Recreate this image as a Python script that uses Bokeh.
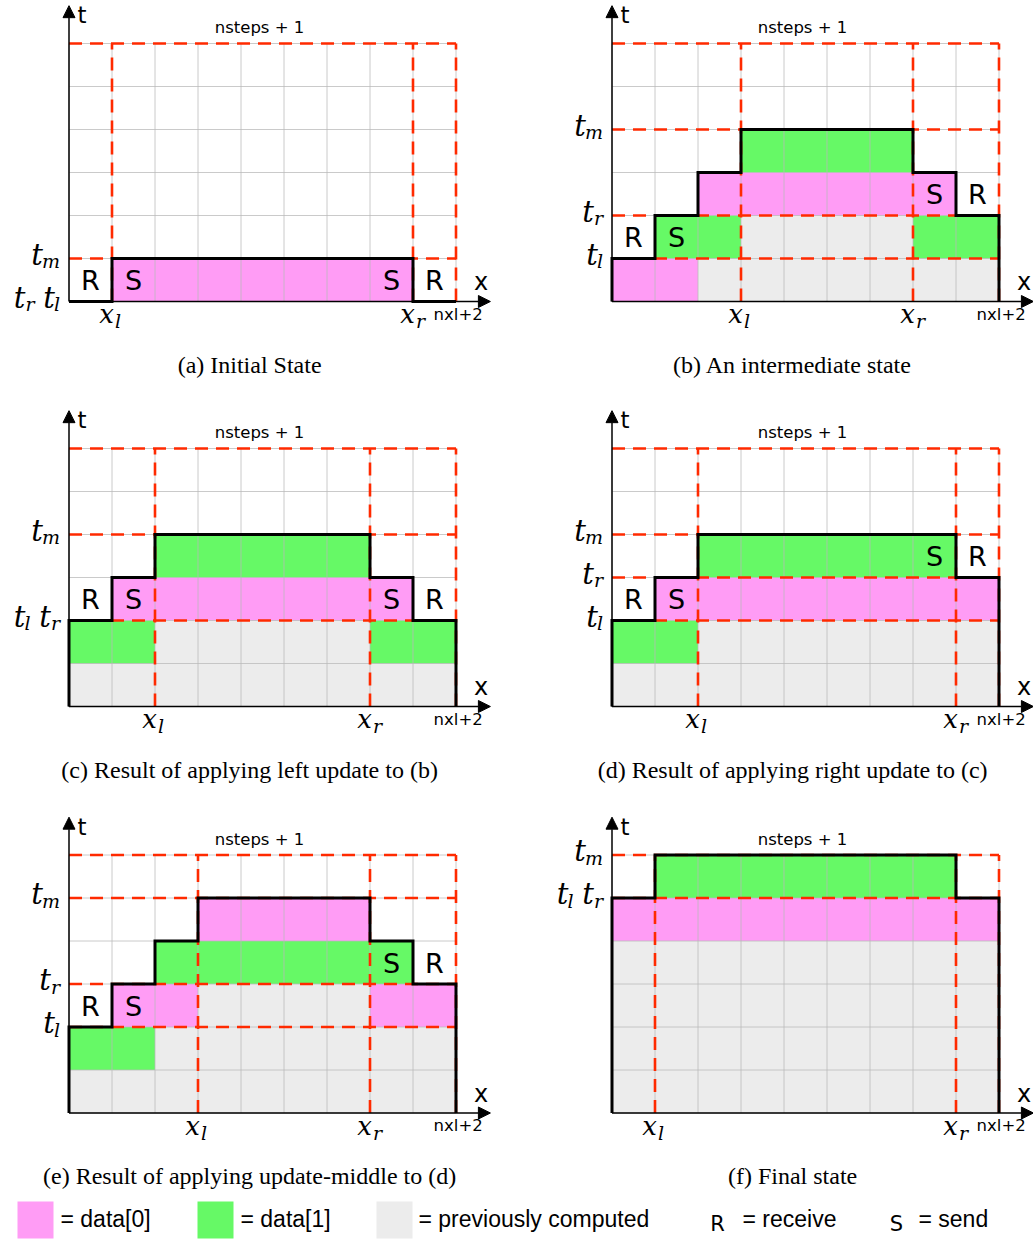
from bokeh.plotting import figure
from bokeh.layouts import column, row
from bokeh.models import Range1d, Arrow, NormalHead
from bokeh.core.properties import value
from bokeh.embed import file_html
from bokeh.resources import INLINE

# ---------------- data ----------------
CAPTIONS = [
    "(a)  Initial State",
    "(b)  An intermediate state",
    "(c)  Result of applying left update to (b)",
    "(d)  Result of applying right update to (c)",
    "(e)  Result of applying update-middle to (d)",
    "(f)  Final state",
]
NX = 9          # nxl + 2 (columns)
NT = 6          # nsteps + 1 (rows)
X_L = [1, 3, 2, 2, 3, 1]
X_R = [8, 7, 7, 8, 7, 8]
T_L = [0, 1, 2, 2, 2, 5]
T_R = [0, 2, 2, 3, 3, 5]
T_M = [1, 4, 4, 4, 5, 6]
T_TICK_ORDER = [["r", "l"], None, ["l", "r"], None, None, ["l", "r"]]

# height of the computed region in each column (black outline)
HEIGHTS = [
    [0, 1, 1, 1, 1, 1, 1, 1, 0],
    [1, 2, 3, 4, 4, 4, 4, 3, 2],
    [2, 3, 4, 4, 4, 4, 4, 3, 2],
    [2, 3, 4, 4, 4, 4, 4, 4, 3],
    [2, 3, 4, 5, 5, 5, 5, 4, 3],
    [5, 6, 6, 6, 6, 6, 6, 6, 5],
]
# (x0, x1, t0, t1) in cells
PINK_RECTS = [
    [(1, 8, 0, 1)],
    [(0, 2, 0, 1), (2, 8, 2, 3)],
    [(1, 8, 2, 3)],
    [(1, 9, 2, 3)],
    [(1, 3, 2, 3), (7, 9, 2, 3), (3, 7, 4, 5)],
    [(0, 9, 4, 5)],
]
GREEN_RECTS = [
    [],
    [(1, 3, 1, 2), (7, 9, 1, 2), (3, 7, 3, 4)],
    [(0, 2, 1, 2), (7, 9, 1, 2), (2, 7, 3, 4)],
    [(0, 2, 1, 2), (2, 8, 3, 4)],
    [(0, 2, 1, 2), (2, 8, 3, 4)],
    [(1, 8, 5, 6)],
]
GRAY_RECTS = [
    [],
    [(2, 9, 0, 1), (3, 7, 1, 2)],
    [(0, 9, 0, 1), (2, 7, 1, 2)],
    [(0, 9, 0, 1), (2, 9, 1, 2)],
    [(0, 9, 0, 1), (2, 9, 1, 2), (3, 7, 2, 3)],
    [(0, 9, 0, 4)],
]
# (letter, cell x, cell t)
RS_MARKS = [
    [("R", 0, 0), ("S", 1, 0), ("S", 7, 0), ("R", 8, 0)],
    [("R", 0, 1), ("S", 1, 1), ("S", 7, 2), ("R", 8, 2)],
    [("R", 0, 2), ("S", 1, 2), ("S", 7, 2), ("R", 8, 2)],
    [("R", 0, 2), ("S", 1, 2), ("S", 7, 3), ("R", 8, 3)],
    [("R", 0, 2), ("S", 1, 2), ("S", 7, 3), ("R", 8, 3)],
    [],
]
LEGEND_LABELS = ["= data[0]", "= data[1]", "= previously computed", "= receive", "= send"]

# ---------------- style ----------------
PINK = "#ff9cf5"
GREEN = "#66f966"
GRAY = "#ececec"
RED = "#ff2a00"
GRIDC = "#b8b8b8"
UNIT = 43.0
MATH = value("DejaVu Serif")
SANS = value("DejaVu Sans")
SUBW = {"m": 18.0, "l": 6.0, "r": 10.0}
TW = 11.5


def u(px):
    return px / UNIT


def make_panel(i, width, origin_x, height, origin_y):
    p = figure(width=width, height=height,
               x_range=Range1d(-u(origin_x), u(width - origin_x)),
               y_range=Range1d(-u(height - origin_y), u(origin_y)),
               output_backend="svg", toolbar_location=None,
               x_axis_type=None, y_axis_type=None, min_border=0,
               outline_line_color=None, background_fill_color="white",
               border_fill_color="white")
    # fills
    for rects, col in ((GRAY_RECTS[i], GRAY), (PINK_RECTS[i], PINK), (GREEN_RECTS[i], GREEN)):
        if rects:
            p.quad(left=[r[0] for r in rects], right=[r[1] for r in rects],
                   bottom=[r[2] for r in rects], top=[r[3] for r in rects],
                   fill_color=col, line_color=None)
    # grid
    gx0 = list(range(NX + 1)) + [0] * (NT + 1)
    gx1 = list(range(NX + 1)) + [NX] * (NT + 1)
    gy0 = [0] * (NX + 1) + list(range(NT + 1))
    gy1 = [NT] * (NX + 1) + list(range(NT + 1))
    p.segment(x0=gx0, y0=gy0, x1=gx1, y1=gy1, line_color=GRIDC, line_alpha=0.75, line_width=1)
    # red dashed lines
    hs = sorted(set([NT, T_M[i], T_L[i], T_R[i]]) - {0})
    vs = sorted(set([X_L[i], X_R[i], NX]))
    p.segment(x0=[0] * len(hs), y0=hs, x1=[NX] * len(hs), y1=hs,
              line_color=RED, line_width=2.6, line_dash="13 8")
    p.segment(x0=vs, y0=[0] * len(vs), x1=vs, y1=[NT] * len(vs),
              line_color=RED, line_width=2.6, line_dash="13 8")
    # outline
    h = HEIGHTS[i]
    ox, oy = [0], [0]
    for c, hc in enumerate(h):
        ox += [c, c + 1]
        oy += [hc, hc]
    ox.append(NX)
    oy.append(0)
    p.line(ox, oy, line_color="black", line_width=3, line_join="miter")
    # axes arrows
    p.add_layout(Arrow(end=NormalHead(size=12, line_color="black", fill_color="black"),
                       x_start=0, y_start=0, x_end=9.8, y_end=0, line_width=1.5))
    p.add_layout(Arrow(end=NormalHead(size=12, line_color="black", fill_color="black"),
                       x_start=0, y_start=0, x_end=0, y_end=6.88, line_width=1.5))
    p.text(x=[0.2], y=[6.66], text=["t"], text_font=SANS, text_font_size="23px",
           text_align="left", text_baseline="middle")
    p.text(x=[9.42], y=[0.45], text=["x"], text_font=SANS, text_font_size="24px",
           text_align="left", text_baseline="middle")
    p.text(x=[4.43], y=[6.37], text=["nsteps + 1"], text_font=SANS, text_font_size="16.5px",
           text_align="center", text_baseline="middle")
    p.text(x=[9.05], y=[-0.3], text=["nxl+2"], text_font=SANS, text_font_size="16.5px",
           text_align="center", text_baseline="middle")
    # R / S marks
    marks = RS_MARKS[i]
    if marks:
        p.text(x=[m[1] + 0.5 for m in marks], y=[m[2] + 0.48 for m in marks],
               text=[m[0] for m in marks], text_font=SANS, text_font_size="27px",
               text_align="center", text_baseline="middle")
    # t tick labels
    levels = {}
    for name, arr in (("l", T_L), ("r", T_R), ("m", T_M)):
        levels.setdefault(arr[i], []).append(name)
    bx, by, sx, sy, st = [], [], [], [], []
    for lev, names in levels.items():
        if len(names) > 1 and T_TICK_ORDER[i]:
            names = T_TICK_ORDER[i]
        cur = -9.0
        for name in reversed(names):
            sx.append(u(cur)); sy.append(lev - u(2.5)); st.append(name)
            base_r = cur - SUBW[name] + 1.0
            bx.append(u(base_r)); by.append(lev + u(4))
            cur = base_r - TW - 9
    p.text(x=bx, y=by, text=["t"] * len(bx), text_font=MATH, text_font_style="italic",
           text_font_size="29px", text_align="right", text_baseline="middle")
    p.text(x=sx, y=sy, text=st, text_font=MATH, text_font_style="italic",
           text_font_size="19px", text_align="right", text_baseline="middle")
    # x tick labels
    xs = [X_L[i], X_R[i]]
    p.text(x=[v + u(2) for v in xs], y=[-u(12.5)] * 2, text=["x", "x"], text_font=MATH,
           text_font_style="italic", text_font_size="26px", text_align="right",
           text_baseline="middle")
    p.text(x=[v + u(3) for v in xs], y=[-u(19.5)] * 2, text=["l", "r"], text_font=MATH,
           text_font_style="italic", text_font_size="19px", text_align="left",
           text_baseline="middle")
    # caption
    p.text(x=[4.27], y=[-1.47], text=[CAPTIONS[i]], text_font=value("Liberation Serif"),
           text_font_size="24px", text_align="center", text_baseline="middle")
    return p


LEFT_W, RIGHT_W = 530, 503
LEFT_OX, RIGHT_OX = 68.5, 81.5
ROW_H = [404, 406, 380]
ROW_OY = [301, 302, 302.5]

rows = []
for r in range(3):
    pl = make_panel(2 * r, LEFT_W, LEFT_OX, ROW_H[r], ROW_OY[r])
    pr = make_panel(2 * r + 1, RIGHT_W, RIGHT_OX, ROW_H[r], ROW_OY[r])
    rows.append(row(pl, pr, spacing=0))

# legend
LG_H = 49
lg = figure(width=LEFT_W + RIGHT_W, height=LG_H, x_range=Range1d(0, LEFT_W + RIGHT_W),
            y_range=Range1d(LG_H, 0), output_backend="svg", toolbar_location=None,
            x_axis_type=None, y_axis_type=None, min_border=0, outline_line_color=None,
            border_fill_color="white", background_fill_color="white")
sw_left = [17, 197, 376]
lg.quad(left=sw_left, right=[v + 36 for v in sw_left], top=[11] * 3, bottom=[48] * 3,
        fill_color=[PINK, GREEN, GRAY], line_color=None)
lg.text(x=[60, 240, 418, 742, 918], y=[28] * 5, text=LEGEND_LABELS,
        text_font=value("Liberation Sans"), text_font_size="23px",
        text_align="left", text_baseline="middle")
lg.text(x=[717, 896], y=[33, 33], text=["R", "S"], text_font=SANS, text_font_size="21px",
        text_align="center", text_baseline="middle")

layout = column(*rows, lg, spacing=0)
open("out.html", "w").write(file_html(layout, INLINE))
